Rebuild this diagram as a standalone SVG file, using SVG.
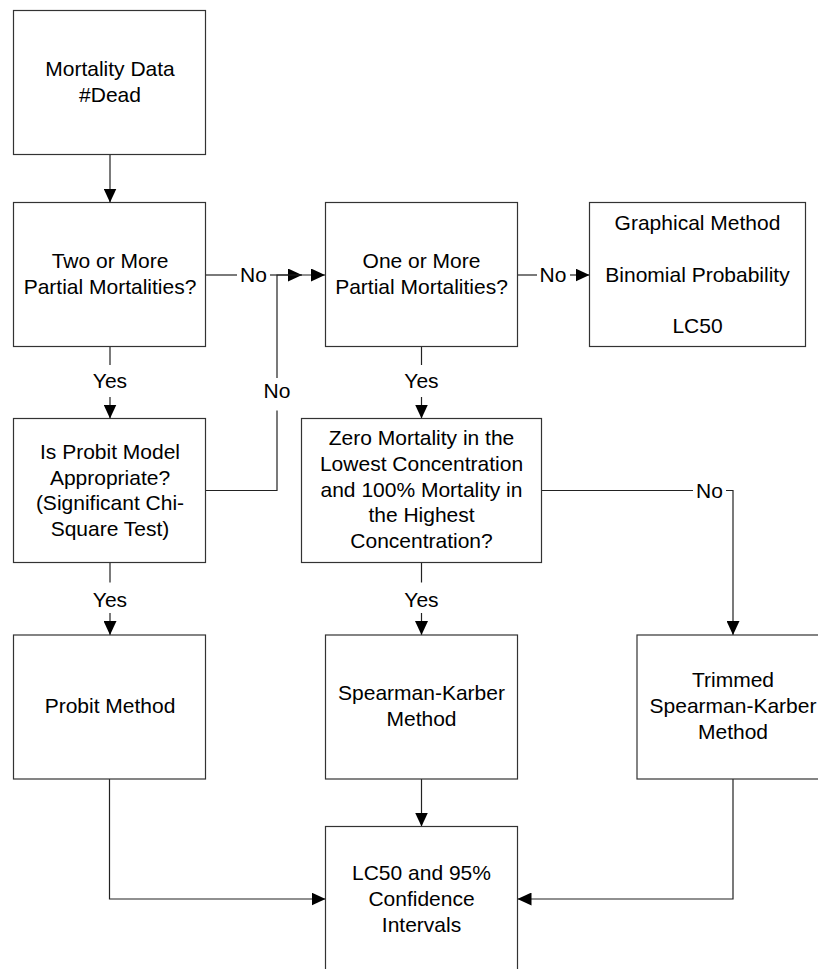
<svg xmlns="http://www.w3.org/2000/svg" width="818" height="969" viewBox="0 0 818 969">
<style>
.box{fill:#fff;stroke:#333;stroke-width:1.2}
.t{font-family:"Liberation Sans",Arial,sans-serif;font-size:21px;fill:#000;text-anchor:middle}
.c{fill:none;stroke:#222;stroke-width:1.2}
</style>
<defs>
<marker id="ah" markerUnits="userSpaceOnUse" markerWidth="14" markerHeight="13" refX="14" refY="6.5" orient="auto">
<path d="M0,0 L14,6.5 L0,13 Z" fill="#000"/>
</marker>
</defs>
<rect width="818" height="969" fill="#fff"/>
<g id="connectors">
<path class="c" d="M110,154.5 V202.5" marker-end="url(#ah)"/>
<path class="c" d="M205.5,275 H237"/>
<path class="c" d="M270,275 H302" marker-end="url(#ah)"/>
<path class="c" d="M277,378 V275 H325" marker-end="url(#ah)"/>
<path class="c" d="M517.5,275 H537"/>
<path class="c" d="M570,275 H589.5" marker-end="url(#ah)"/>
<path class="c" d="M110,346.5 V365"/>
<path class="c" d="M110,397 V418.5" marker-end="url(#ah)"/>
<path class="c" d="M205.5,490.5 H277 V410.5"/>
<path class="c" d="M421.5,346.5 V365"/>
<path class="c" d="M421.5,397 V418.5" marker-end="url(#ah)"/>
<path class="c" d="M110,562.5 V582.5"/>
<path class="c" d="M110,613 V635" marker-end="url(#ah)"/>
<path class="c" d="M421.5,562.5 V582.5"/>
<path class="c" d="M421.5,613 V635" marker-end="url(#ah)"/>
<path class="c" d="M541.5,490.5 H693"/>
<path class="c" d="M726,490.5 H733 V635" marker-end="url(#ah)"/>
<path class="c" d="M421.5,779 V826.5" marker-end="url(#ah)"/>
<path class="c" d="M109.5,779 V899 H325.5" marker-end="url(#ah)"/>
<path class="c" d="M733,779 V899 H517.5" marker-end="url(#ah)"/>
<text class="t" x="253.5" y="282">No</text>
<text class="t" x="553" y="282">No</text>
<text class="t" x="110" y="388">Yes</text>
<text class="t" x="277" y="398">No</text>
<text class="t" x="421.5" y="388">Yes</text>
<text class="t" x="110" y="606.5">Yes</text>
<text class="t" x="421.5" y="606.5">Yes</text>
<text class="t" x="709.5" y="498">No</text>
</g>
<g id="mortality-data">
<rect class="box" x="13.5" y="10.5" width="192" height="144"/>
<text class="t" x="110" y="76">Mortality Data</text>
<text class="t" x="110" y="101.5">#Dead</text>
</g>
<g id="two-or-more">
<rect class="box" x="13.5" y="202.5" width="192" height="144"/>
<text class="t" x="110" y="268">Two or More</text>
<text class="t" x="110" y="294">Partial Mortalities?</text>
</g>
<g id="one-or-more">
<rect class="box" x="325.5" y="202.5" width="192" height="144"/>
<text class="t" x="421.5" y="268">One or More</text>
<text class="t" x="421.5" y="294">Partial Mortalities?</text>
</g>
<g id="graphical">
<rect class="box" x="589.5" y="202.5" width="216" height="144"/>
<text class="t" x="697.5" y="230">Graphical Method</text>
<text class="t" x="697.5" y="281.5">Binomial Probability</text>
<text class="t" x="697.5" y="332.5">LC50</text>
</g>
<g id="probit-model">
<rect class="box" x="13.5" y="418.5" width="192" height="144"/>
<text class="t" x="110" y="459">Is Probit Model</text>
<text class="t" x="110" y="484.5">Appropriate?</text>
<text class="t" x="110" y="510">(Significant Chi-</text>
<text class="t" x="110" y="535.5">Square Test)</text>
</g>
<g id="zero-mortality">
<rect class="box" x="301.5" y="418.5" width="240" height="144"/>
<text class="t" x="421.5" y="445">Zero Mortality in the</text>
<text class="t" x="421.5" y="470.7">Lowest Concentration</text>
<text class="t" x="421.5" y="496.5">and 100% Mortality in</text>
<text class="t" x="421.5" y="522">the Highest</text>
<text class="t" x="421.5" y="547.7">Concentration?</text>
</g>
<g id="probit-method">
<rect class="box" x="13.5" y="635" width="192" height="144"/>
<text class="t" x="110" y="713">Probit Method</text>
</g>
<g id="spearman-karber">
<rect class="box" x="325.5" y="635" width="192" height="144"/>
<text class="t" x="421.5" y="700">Spearman-Karber</text>
<text class="t" x="421.5" y="725.7">Method</text>
</g>
<g id="trimmed-spearman-karber">
<rect class="box" x="637" y="635" width="192" height="144"/>
<text class="t" x="733" y="687">Trimmed</text>
<text class="t" x="733" y="713">Spearman-Karber</text>
<text class="t" x="733" y="738.5">Method</text>
</g>
<g id="lc50-ci">
<rect class="box" x="325.5" y="826.5" width="192" height="144"/>
<text class="t" x="421.5" y="880">LC50 and 95%</text>
<text class="t" x="421.5" y="905.7">Confidence</text>
<text class="t" x="421.5" y="931.7">Intervals</text>
</g>
</svg>
